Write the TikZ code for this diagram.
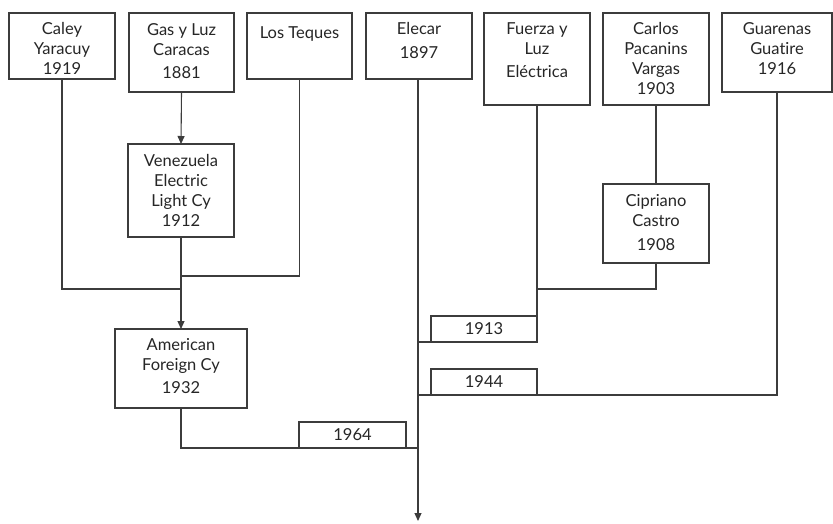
\documentclass[tikz,border=0pt]{standalone}
\usepackage{fontspec}
\setmainfont{Lato}[Ligatures=NoCommon]
\usetikzlibrary{arrows.meta}
\definecolor{ln}{HTML}{3C3C3C}
\definecolor{tx}{HTML}{262626}
\tikzset{
  box/.style={draw=ln, line width=1.1pt, inner sep=0pt, outer sep=0pt, fill=white},
  txt/.style={text=tx, inner sep=0pt, align=center, font=\fontsize{16.5}{20}\selectfont},
  conn/.style={draw=ln, line width=1.1pt},
  arr/.style={conn, -{Triangle[length=8pt,width=7pt]}},
}
\begin{document}
\begin{tikzpicture}[x=1pt,y=-1pt]
\useasboundingbox (0,0) rectangle (833,523);
% top row boxes
\node[box, minimum width=106pt, minimum height=66pt] (caley) at (62,46) {};
\node[box, minimum width=105pt, minimum height=79pt] (gas) at (181.5,52.5) {};
\node[box, minimum width=105pt, minimum height=66pt] (teques) at (299.5,46) {};
\node[box, minimum width=106pt, minimum height=66pt] (elecar) at (419,46) {};
\node[box, minimum width=106pt, minimum height=92pt] (fuerza) at (537,59) {};
\node[box, minimum width=106pt, minimum height=92pt] (carlos) at (656,59) {};
\node[box, minimum width=110pt, minimum height=79pt] (guarenas) at (777,52.5) {};
% middle boxes
\node[box, minimum width=106pt, minimum height=93pt] (vel) at (181,190.5) {};
\node[box, minimum width=106pt, minimum height=79pt] (cipriano) at (656,223.5) {};
\node[box, minimum width=132pt, minimum height=79pt] (afc) at (181,368.5) {};
% texts
\node[txt, anchor=north] (caley-t) at ([yshift=-9pt]caley.north) {Caley\\Yaracuy\\1919};
\node[txt, anchor=north] (gas-t) at ([yshift=-10pt]gas.north) {Gas y Luz\\Caracas\\[3pt]1881};
\node[txt, anchor=north] (teques-t) at ([yshift=-13pt]teques.north) {Los Teques};
\node[txt, anchor=north] (elecar-t) at ([yshift=-9pt]elecar.north) {Elecar\\[4pt]1897};
\node[txt, anchor=north] (fuerza-t) at ([yshift=-9pt]fuerza.north) {Fuerza y\\Luz\\[3pt]Eléctrica};
\node[txt, anchor=north] (carlos-t) at ([yshift=-9pt]carlos.north) {Carlos\\Pacanins\\Vargas\\1903};
\node[txt, anchor=north] (guarenas-t) at ([yshift=-9pt]guarenas.north) {Guarenas\\Guatire\\1916};
\node[txt, anchor=north] (vel-t) at ([yshift=-10pt]vel.north) {Venezuela\\Electric\\Light Cy\\1912};
\node[txt, anchor=north] (cipriano-t) at ([yshift=-10pt]cipriano.north) {Cipriano\\Castro\\[4pt]1908};
\node[txt, anchor=north] (afc-t) at ([yshift=-9pt]afc.north) {American\\Foreign Cy\\[3pt]1932};
% junction coordinates
\coordinate (j1) at (181,289);
\coordinate (j2) at (181,276);
\coordinate (j3) at (418,448);
\coordinate (j4) at (418,342);
\coordinate (j5) at (537,289);
\coordinate (j6) at (418,395);
\coordinate (bot) at (418,521);
% connectors
\draw[conn] (caley.south) |- (j1);
\draw[arr] (gas.south) -- (vel.north);
\draw[conn] (teques.south) |- (j2);
\draw[arr] (vel.south) -- (afc.north);
\draw[conn] (afc.south) |- (j3);
\draw[arr] ([xshift=-1pt]elecar.south) -- (bot);
\draw[conn] (fuerza.south) |- (j4);
\draw[conn] (carlos.south) -- (cipriano.north);
\draw[conn] (cipriano.south) |- (j5);
\draw[conn] (guarenas.south) |- (j6);
% year boxes sitting on the connectors
\node[box, txt, minimum width=107pt, minimum height=26pt] (y1964) at (352.5,435) {1964};
\node[box, txt, minimum width=106pt, minimum height=26pt] (y1913) at (484,329) {1913};
\node[box, txt, minimum width=106pt, minimum height=26pt] (y1944) at (484,382) {1944};
\end{tikzpicture}
\end{document}
